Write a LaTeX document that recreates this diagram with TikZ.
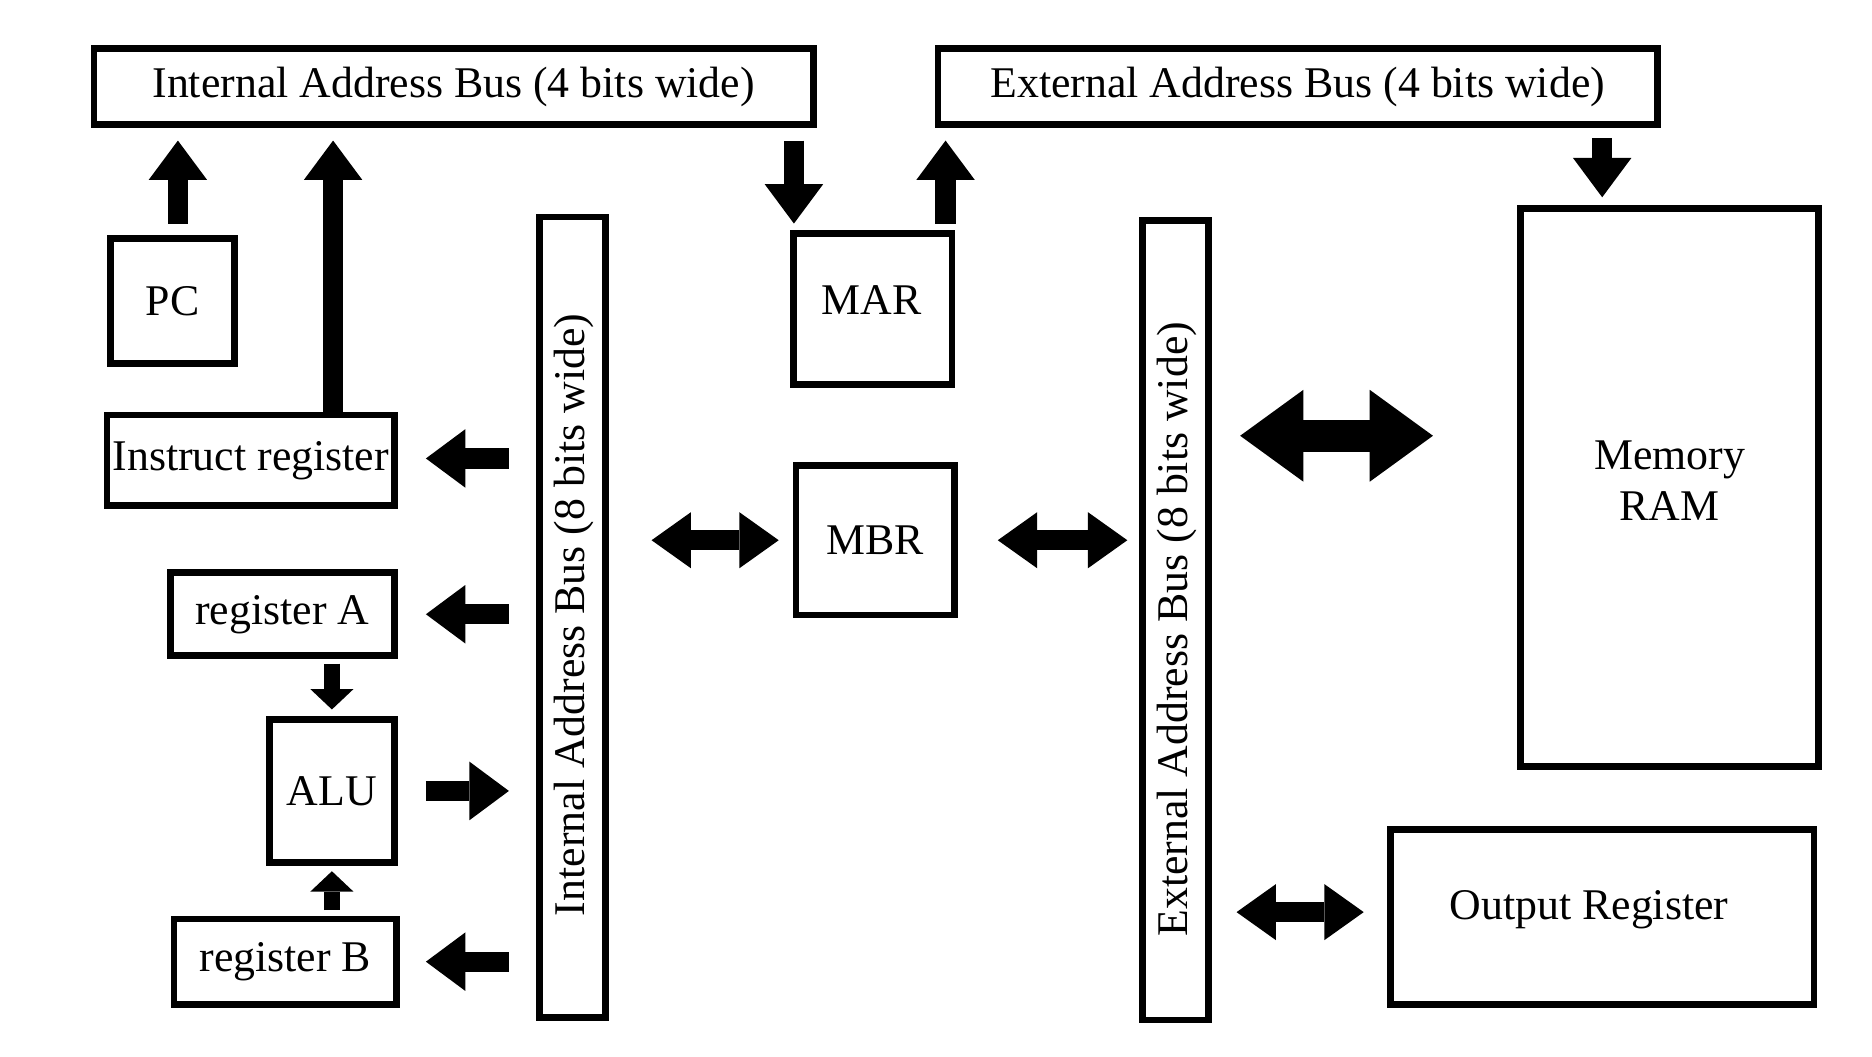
\documentclass[tikz,border=0pt]{standalone}
\usepackage{fontspec}
\setmainfont{Liberation Serif}
\usetikzlibrary{arrows.meta,calc}
\newcommand\diagfont{\fontsize{36.7}{43}\selectfont}
\begin{document}
\begin{tikzpicture}[x=1pt,y=-1pt,
  box/.style={draw, line width=5.5pt, inner sep=0pt, font=\diagfont},
  txt/.style={inner sep=0pt, font=\diagfont},
  blk/.style={line width=17pt, -{Triangle[length=33pt,width=49pt,line width=0pt]}},
  sblk/.style={line width=13pt, -{Triangle[length=17pt,width=36pt,line width=0pt]}},
  dbl/.style={line width=17pt, {Triangle[length=33pt,width=47pt,line width=0pt]}-{Triangle[length=33pt,width=47pt,line width=0pt]}},
  bigdbl/.style={line width=27pt, {Triangle[length=53pt,width=77pt,line width=0pt]}-{Triangle[length=53pt,width=77pt,line width=0pt]}}
]
\fill[white] (0,0) rectangle (1568,885);
\useasboundingbox (0,0) rectangle (1568,885);

% boxes
\node[box, minimum width=602.5pt, minimum height=63.5pt] (iab4) at (380,72.5) {Internal Address Bus (4 bits wide)};
\node[box, minimum width=602.5pt, minimum height=63.5pt] (eab4) at (1087,72.5) {External Address Bus (4 bits wide)};
\node[box, minimum width=103.5pt, minimum height=104.5pt] (pc) at (144.5,252) {PC};
\node[box, minimum width=55.5pt, minimum height=670.5pt] (ibus) at (479.5,517) {};
\node[txt, rotate=90] (ibustxt) at (481,515) {Internal Address Bus (8 bits wide)};
\node[box, minimum width=132.5pt, minimum height=126.5pt] (mar) at (731,259) {};
\node[txt] (martxt) at (730,251) {MAR};
\node[box, minimum width=132.5pt, minimum height=125.5pt] (mbr) at (733,452.5) {MBR};
\node[box, minimum width=55.5pt, minimum height=669.5pt] (ebus) at (984.5,519.5) {};
\node[txt, rotate=90] (ebustxt) at (986,527) {External Address Bus (8 bits wide)};
\node[box, minimum width=249.5pt, minimum height=467.5pt] (mem) at (1398.5,408.5) {};
\node[txt, align=center] (memtxt) at (1398.5,402.5) {Memory\\RAM};
\node[box, minimum width=240.5pt, minimum height=75.5pt] (ir) at (210,385.5) {Instruct register};
\node[box, minimum width=187.5pt, minimum height=69.5pt] (rega) at (236.5,514.5) {register A};
\node[box, minimum width=104.5pt, minimum height=119.5pt] (alu) at (278,662.5) {ALU};
\node[box, minimum width=186.5pt, minimum height=71.5pt] (regb) at (239,805.5) {register B};
\node[box, minimum width=354.5pt, minimum height=146.5pt] (outr) at (1342,768) {};
\node[txt] (outrtxt) at (1331,762) {Output Register};

% vertical arrows
\draw[blk, shorten <=9.75pt, shorten >=10.75pt] ($(pc.north)+(4.5,0)$) -- ($(pc.north |- iab4.south)+(4.5,0)$);
\draw[blk, shorten >=10.75pt] ($(ir.north)+(69,0)$) -- ($(ir.north |- iab4.south)+(69,0)$);
\draw[blk, shorten <=10.75pt, shorten >=5.75pt] ($(mar.north |- iab4.south)+(-66,0)$) -- ($(mar.north)+(-66,0)$);
\draw[blk, shorten <=5.75pt, shorten >=10.75pt] ($(mar.north)+(61,0)$) -- ($(mar.north |- eab4.south)+(61,0)$);
\draw[blk, shorten <=8.75pt, shorten >=6.75pt] ($(mem.north |- eab4.south)+(-56.5,0)$) -- ($(mem.north)+(-56.5,0)$);
\draw[sblk, shorten <=3.75pt, shorten >=5.75pt] (alu.north |- rega.south) -- (alu.north);
\draw[sblk, shorten <=4.75pt, shorten >=4.75pt] (alu.south |- regb.north) -- (alu.south);

% horizontal arrows on the left
\draw[blk, shorten <=22.75pt, shorten >=23.75pt] ($(ir.east -| ibus.west)+(0,-1.5)$) -- ($(ir.east)+(0,-1.5)$);
\draw[blk, shorten <=22.75pt, shorten >=23.75pt] (rega.east -| ibus.west) -- (rega.east);
\draw[blk, shorten <=23.75pt, shorten >=22.75pt] (alu.east) -- (alu.east -| ibus.west);
\draw[blk, shorten <=22.75pt, shorten >=21.75pt] (regb.east -| ibus.west) -- (regb.east);

% double arrows
\draw[dbl, shorten <=35.75pt, shorten >=11.75pt] (mbr.west -| ibus.east) -- (mbr.west);
\draw[dbl, shorten <=33.75pt, shorten >=9.75pt] (mbr.east) -- (mbr.east -| ebus.west);
\draw[bigdbl, shorten <=23.75pt, shorten >=70.75pt] ($(mem.west -| ebus.east)+(0,-43.5)$) -- ($(mem.west)+(0,-43.5)$);
\draw[dbl, shorten <=20.75pt, shorten >=19.75pt] ($(outr.west -| ebus.east)+(0,-4)$) -- ($(outr.west)+(0,-4)$);
\end{tikzpicture}
\end{document}
